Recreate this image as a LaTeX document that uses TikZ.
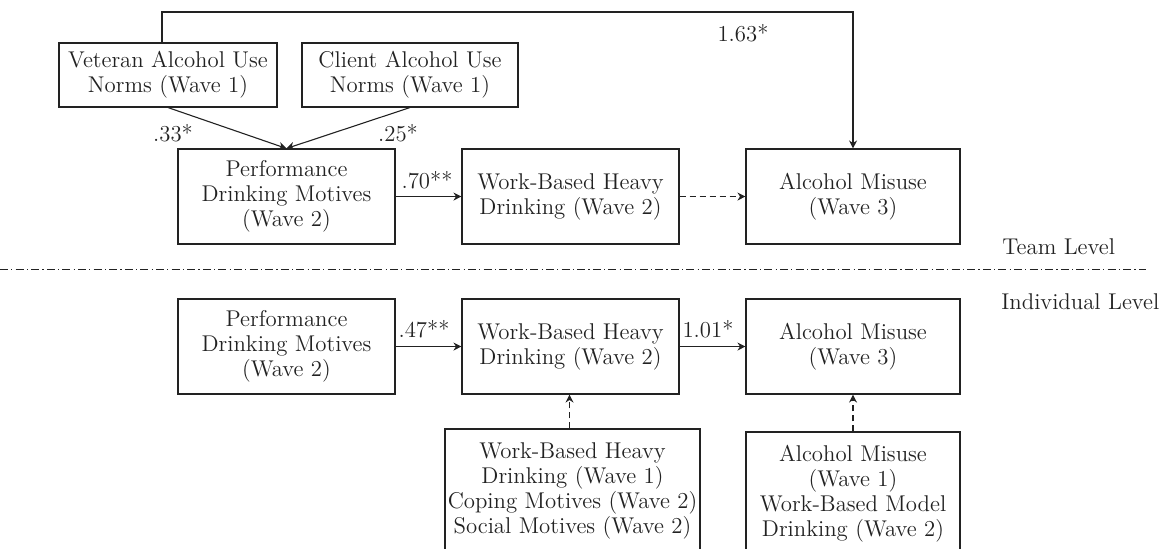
\documentclass[tikz,border=0pt]{standalone}
\usepackage{tikz}
\usetikzlibrary{arrows.meta,positioning}
\definecolor{Ink}{HTML}{222222}
\tikzset{
  varbox/.style={draw=Ink,line width=0.55pt,text=Ink,align=center,
    inner sep=0pt,minimum height=47.5pt},
  coef/.style={text=Ink,inner sep=0pt},
  effect/.style={draw=Ink,line width=0.55pt,-{Stealth[length=4pt,width=4pt]}},
  control/.style={effect,dash pattern=on 3pt off 2pt}
}

\begin{document}
\begin{tikzpicture}[x=0.5pt,y=-0.5pt,
    font=\fontsize{11.4pt}{12.5pt}\selectfont]
  \useasboundingbox (0,0) rectangle (1168,548);

  % team level
  \node[varbox,minimum width=109pt,minimum height=32pt] (vet) at (168,75)
    {Veteran Alcohol Use\\Norms (Wave 1)};
  \node[varbox,minimum width=108pt,minimum height=32pt] (cli) at (410,75)
    {Client Alcohol Use\\Norms (Wave 1)};
  \node[varbox,minimum width=108.5pt] (perfT) at (286.5,196.5)
    {Performance\\Drinking Motives\\(Wave 2)};
  \node[varbox,minimum width=108.5pt] (wbT) at (570.5,196.5)
    {Work-Based Heavy\\Drinking (Wave 2)};
  \node[varbox,minimum width=107pt] (amT) at (853,196.5)
    {Alcohol Misuse\\(Wave 3)};
  \coordinate (topc) at (500,12);

  \draw[effect] (vet.south) -- (perfT.north);
  \draw[effect] (cli.south) -- (perfT.north);
  \draw[effect] ([xshift=-3pt]vet.north) |- (topc) -| (amT.north);
  \draw[effect] (perfT) -- (wbT);
  \draw[control] (wbT) -- (amT);
  \node[coef] (c33) at (173,133) {.33*};
  \node[coef] (c25) at (398,133) {.25*};
  \node[coef] (c163) at (743,33) {1.63*};
  \node[coef] (c70) at (427,180) {.70**};

  % level divider
  \coordinate (divl) at (0,269);
  \coordinate (divr) at (1146,269);
  \draw[Ink,line width=0.5pt,dash pattern=on 4pt off 1.6pt on 0.6pt off 1.6pt]
    (divl) -- (divr);
  \node[coef,anchor=west] (team) at (1002,247) {Team Level};
  \node[coef,anchor=west] (indiv) at (1001,302) {Individual Level};

  % individual level
  \node[varbox,minimum width=108.5pt] (perfI) at (286.5,346.5)
    {Performance\\Drinking Motives\\(Wave 2)};
  \node[varbox,minimum width=108.5pt] (wbI) at (570.5,346.5)
    {Work-Based Heavy\\Drinking (Wave 2)};
  \node[varbox,minimum width=107pt] (amI) at (853,346.5)
    {Alcohol Misuse\\(Wave 3)};
  \node[varbox,minimum width=127.5pt,minimum height=62pt] (covWB) at (572.5,491)
    {Work-Based Heavy\\Drinking (Wave 1)\\Coping Motives (Wave 2)\\Social Motives (Wave 2)};
  \node[varbox,minimum width=107pt,minimum height=62pt] (covAM) at (853,494)
    {Alcohol Misuse\\(Wave 1)\\Work-Based Model\\Drinking (Wave 2)};

  \draw[effect] (perfI) -- (wbI);
  \draw[effect] (wbI) -- (amI);
  \draw[control] ([xshift=-1.5pt]covWB.north) -- ([xshift=-1.5pt]covWB.north |- wbI.south);
  \draw[control] (covAM.north) -- (amI.south);
  \node[coef] (c47) at (424,329) {.47**};
  \node[coef] (c101) at (708,329) {1.01*};
\end{tikzpicture}
\end{document}
